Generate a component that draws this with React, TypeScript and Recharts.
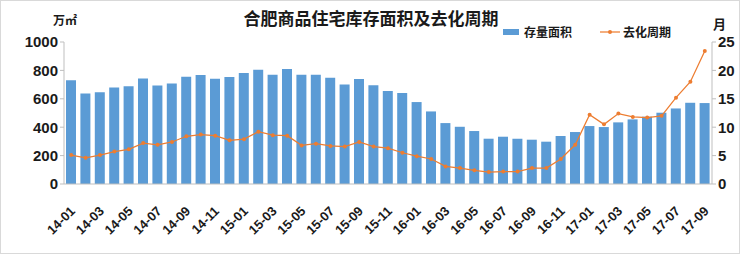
import React from "react";
import { ComposedChart, Bar, Line, XAxis, YAxis } from "recharts";

const months = [
  "14-01","14-02","14-03","14-04","14-05","14-06","14-07","14-08","14-09","14-10","14-11","14-12",
  "15-01","15-02","15-03","15-04","15-05","15-06","15-07","15-08","15-09","15-10","15-11","15-12",
  "16-01","16-02","16-03","16-04","16-05","16-06","16-07","16-08","16-09","16-10","16-11","16-12",
  "17-01","17-02","17-03","17-04","17-05","17-06","17-07","17-08","17-09",
];

const stockArea = [
  731, 638, 647, 680, 689, 743, 694, 708, 755, 767, 741, 753,
  781, 804, 769, 809, 769, 769, 748, 701, 739, 696, 655, 640,
  577, 511, 429, 403, 373, 319, 333, 319, 312, 298, 338, 366,
  408, 401, 434, 455, 474, 502, 532, 572, 570,
];

const cycleMonths = [
  5.1, 4.6, 5.1, 5.7, 6.1, 7.2, 6.9, 7.4, 8.4, 8.7, 8.5, 7.7,
  7.9, 9.2, 8.6, 8.5, 6.8, 7.1, 6.7, 6.6, 7.4, 6.6, 6.3, 5.5,
  4.9, 4.4, 3.1, 2.8, 2.4, 2.1, 2.2, 2.2, 2.8, 2.8, 4.4, 6.9,
  12.2, 10.5, 12.4, 11.8, 11.7, 12.0, 15.2, 18.0, 23.4,
];

const leftTicks = [0, 200, 400, 600, 800, 1000];
const rightTicks = [0, 5, 10, 15, 20, 25];

const data = months.map((m, i) => ({ month: m, stock: stockArea[i], cycle: cycleMonths[i] }));

const BLUE = "#5B9BD5";
const ORANGE = "#ED7D31";
const NUM_FONT = "'Liberation Sans', Arial, sans-serif";
const CJK_FONT = "'Noto Sans CJK SC', sans-serif";

const XTick = (props: any) => {
  const { x, y, payload } = props;
  const ax = x - 2;
  const ay = y + 13;
  return (
    <text
      x={ax}
      y={ay}
      transform={`rotate(-45 ${ax} ${ay})`}
      textAnchor="end"
      dominantBaseline="hanging"
      fontFamily={NUM_FONT}
      fontWeight="bold"
      fontSize={13}
      fill="#1a1a1a"
    >
      {payload.value}
    </text>
  );
};

export default function App() {
  return (
    <div
      style={{
        position: "absolute",
        left: 0,
        top: 0,
        width: 740,
        height: 254,
        background: "#fff",
        border: "1px solid #d9d9d9",
        boxSizing: "border-box",
        overflow: "hidden",
      }}
    >
      <div
        style={{
          position: "absolute",
          left: 0,
          width: 740,
          top: 6,
          textAlign: "center",
          fontFamily: CJK_FONT,
          fontWeight: "bold",
          fontSize: 17,
          lineHeight: "22px",
          color: "#1a1a1a",
        }}
      >
        合肥商品住宅库存面积及去化周期
      </div>
      <div
        style={{
          position: "absolute",
          left: 52,
          top: 11,
          fontFamily: CJK_FONT,
          fontWeight: "bold",
          fontSize: 12,
          lineHeight: "16px",
          color: "#1a1a1a",
        }}
      >
        万㎡
      </div>
      <div
        style={{
          position: "absolute",
          left: 712,
          top: 15,
          fontFamily: CJK_FONT,
          fontWeight: "bold",
          fontSize: 13,
          lineHeight: "16px",
          color: "#1a1a1a",
        }}
      >
        月
      </div>
      <div
        style={{
          position: "absolute",
          left: 502,
          top: 23,
          display: "flex",
          alignItems: "center",
          fontFamily: CJK_FONT,
          fontWeight: "bold",
          fontSize: 12,
          lineHeight: "16px",
          color: "#1a1a1a",
        }}
      >
        <span style={{ display: "inline-block", width: 16, height: 6, background: BLUE, marginRight: 5 }} />
        <span>存量面积</span>
        <svg width={20} height={8} style={{ marginLeft: 28, marginRight: 3 }}>
          <line x1={0} y1={4} x2={20} y2={4} stroke={ORANGE} strokeWidth={1.25} />
          <circle cx={10} cy={4} r={2} fill={ORANGE} />
        </svg>
        <span>去化周期</span>
      </div>
      <div style={{ position: "absolute", left: 0, top: 0 }}>
        <ComposedChart
          width={740}
          height={254}
          data={data}
          margin={{ top: 41, right: 0, bottom: 0, left: 0 }}
          barSize={10}
        >
          <XAxis
            dataKey="month"
            interval={1}
            tick={<XTick />}
            tickLine={false}
            axisLine={{ stroke: "#bfbfbf" }}
            height={71}
          />
          <YAxis
            yAxisId="left"
            domain={[0, 1000]}
            ticks={leftTicks}
            width={63}
            tickSize={4}
            tickLine={{ stroke: "#bfbfbf" }}
            axisLine={{ stroke: "#bfbfbf" }}
            tick={{ fontFamily: NUM_FONT, fontWeight: "bold", fontSize: 15, fill: "#1a1a1a" }}
          />
          <YAxis
            yAxisId="right"
            orientation="right"
            domain={[0, 25]}
            ticks={rightTicks}
            width={29}
            tickSize={4}
            tickLine={{ stroke: "#bfbfbf" }}
            axisLine={{ stroke: "#bfbfbf" }}
            tick={{ fontFamily: NUM_FONT, fontWeight: "bold", fontSize: 15, fill: "#1a1a1a" }}
          />
          <Bar yAxisId="left" dataKey="stock" fill={BLUE} isAnimationActive={false} />
          <Line
            yAxisId="right"
            dataKey="cycle"
            type="linear"
            stroke={ORANGE}
            strokeWidth={1.25}
            dot={{ r: 2, fill: ORANGE, stroke: ORANGE, strokeWidth: 0 }}
            isAnimationActive={false}
          />
        </ComposedChart>
      </div>
    </div>
  );
}
